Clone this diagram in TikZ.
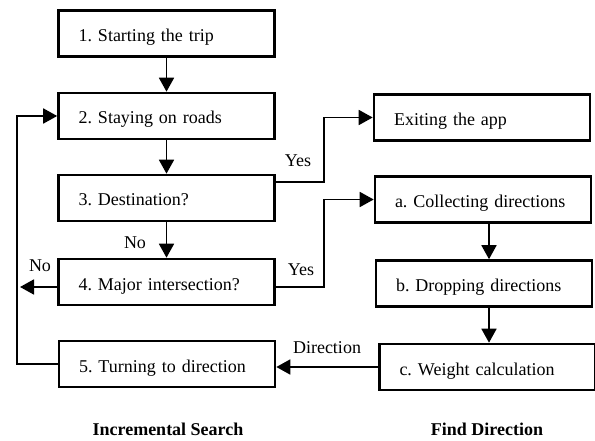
\documentclass[tikz,border=0pt]{standalone}
\usepackage{fontspec}
\setmainfont{Liberation Serif}
\usetikzlibrary{arrows.meta}
\tikzset{
  flowstep/.style={rectangle, draw, line width=2.6pt, minimum height=46pt, inner xsep=20pt, text width=176pt, text height=16pt, text depth=0pt, align=left, font=\fontsize{18}{21}\selectfont\frenchspacing},
  tag/.style={inner sep=1pt, font=\fontsize{18}{21}\selectfont},
  heading/.style={inner sep=1pt, font=\fontsize{18}{21}\selectfont\bfseries},
  link/.style={->, line width=1.8pt}
}
\newcommand{\flowbox}[3] {\node at (#1) (#2) [flowstep] {#3};}
\newcommand{\flowtag}[3] {\node at (#1) (#2) [tag] {#3};}
\newcommand{\flowlink}[2] {\draw [link] (#1) -- (#2);}
\newcommand{\flowelbow}[3] {\draw [link] (#1) -- (#2) |- (#3);}

\begin{document}
\begin{tikzpicture}[x=1pt, y=-1pt, >={Triangle[length=14pt,width=15pt]}]
\useasboundingbox (0,0) rectangle (595,441);

\flowbox {166.5,33.5}{trip}{1. Starting the trip}
\flowbox {166.5,116}{roads}{2. Staying on roads}
\flowbox {166.5,198}{dest}{3. Destination?}
\flowbox {166.5,282}{major}{4. Major intersection?}
\flowbox {167,364}{turn}{5. Turning to direction}
\flowbox {482,117.5}{exit}{Exiting the app}
\flowbox {483,199.5}{collect}{a. Collecting directions}
\flowbox {484,283.5}{drop}{b. Dropping directions}
\flowbox {487.5,367}{weight}{c. Weight calculation}
\coordinate (dest1) at (324,182);
\coordinate (major1) at (324,287);
\coordinate (major2) at (20,287);
\coordinate (turn1) at (17,116);
\coordinate (drop1) at (489,0);

\flowlink {trip}{roads}
\flowlink {roads}{dest}
\flowlink {dest}{major}
\flowelbow {dest.east |- dest1}{dest1}{exit.west}
\flowelbow {major.east |- major1}{major1}{collect.west}
\flowlink {major.west |- major2}{major2}
\draw [link] (turn.west) -| (turn1) -- (roads.west);
\flowlink {collect.south -| drop1}{drop.north -| drop1}
\flowlink {drop.south -| drop1}{weight.north -| drop1}
\flowlink {weight.west}{weight.west -| turn.east}

\flowtag {298,161}{yes1}{Yes}
\flowtag {301,270}{yes2}{Yes}
\flowtag {135,243}{no1}{No}
\flowtag {40,266}{no2}{No}
\flowtag {327,348}{dirtag}{Direction}
\node at (168,429) (lefttitle) [heading] {Incremental Search};
\node at (487,429) (righttitle) [heading] {Find Direction};
\end{tikzpicture}
\end{document}
